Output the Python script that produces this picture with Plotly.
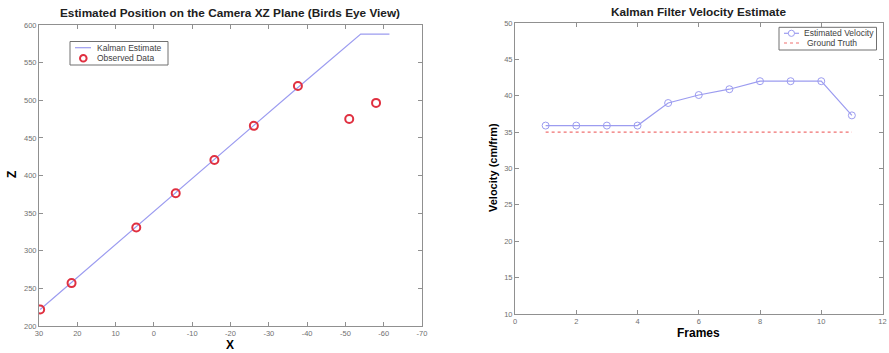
import plotly.graph_objects as go

# ---- Left chart data: Camera XZ plane ----
obs_x = [29.7, 21.5, 4.6, -5.7, -15.8, -26.1, -37.6, -51.0, -58.0]
obs_z = [222, 257, 331, 376.5, 420.5, 466, 519, 475, 496.5]
kal_x = [29.7, 21.5, 4.6, -5.7, -15.8, -26.1, -37.6, -54.0, -61.5]
kal_z = [222, 258, 332, 377, 421, 466, 517, 588, 588]
xz_xticks = [30, 20, 10, 0, -10, -20, -30, -40, -50, -60, -70]
xz_yticks = [200, 250, 300, 350, 400, 450, 500, 550, 600]

# ---- Right chart data: velocity ----
frames = [1, 2, 3, 4, 5, 6, 7, 8, 9, 10, 11]
est_vel = [35.9, 35.9, 35.9, 35.9, 39.0, 40.1, 40.9, 42.0, 42.0, 42.0, 37.3]
truth_vel = [35, 35, 35, 35, 35, 35, 35, 35, 35, 35, 35]
vel_xticks = [0, 2, 4, 6, 8, 10, 12]
vel_yticks = [10, 15, 20, 25, 30, 35, 40, 45, 50]

W, H = 889, 353
FONT = "Liberation Sans, Arial, sans-serif"
BLUE = "#9c9cf0"
RED = "#e03040"
PINK = "#f07070"
LEG_FS = 8.5
TITLE_FS = 11.8

fig = go.Figure()
fig.add_trace(go.Scatter(x=kal_x, y=kal_z, mode="lines", name="Kalman Estimate",
                         line=dict(color=BLUE, width=1.2), xaxis="x", yaxis="y"))
fig.add_trace(go.Scatter(x=obs_x, y=obs_z, mode="markers", name="Observed Data",
                         marker=dict(symbol="circle-open", size=8, color=RED,
                                     line=dict(width=2, color=RED)),
                         xaxis="x", yaxis="y"))
fig.add_trace(go.Scatter(x=frames, y=est_vel, mode="lines+markers", name="Estimated Velocity",
                         line=dict(color=BLUE, width=1.2),
                         marker=dict(symbol="circle-open", size=7, color=BLUE,
                                     line=dict(width=1, color=BLUE)),
                         xaxis="x2", yaxis="y2"))
fig.add_trace(go.Scatter(x=frames, y=truth_vel, mode="lines", name="Ground Truth",
                         line=dict(color=PINK, width=1.2, dash="dot"),
                         xaxis="x2", yaxis="y2"))

axis_common = dict(showline=True, linecolor="#909090", linewidth=1, mirror="ticks",
                   ticks="inside", ticklen=4, tickcolor="#909090", showgrid=False,
                   zeroline=False, automargin=False,
                   tickfont=dict(family=FONT, size=7.5, color="#707070"))


def px(x):
    return x / W


def py(y):
    return 1 - y / H


shapes = []
annotations = []

# Left legend (drawn compactly, MATLAB style)
shapes.append(dict(type="rect", xref="paper", yref="paper", x0=px(70), x1=px(168),
                   y0=py(41.5), y1=py(65), line=dict(color="#707070", width=1),
                   fillcolor="white", layer="above"))
shapes.append(dict(type="line", xref="paper", yref="paper", x0=px(75), x1=px(91),
                   y0=py(47.7), y1=py(47.7), line=dict(color=BLUE, width=1.2), layer="above"))
shapes.append(dict(type="circle", xref="paper", yref="paper", x0=px(80), x1=px(86.6),
                   y0=py(55), y1=py(61.6), line=dict(color=RED, width=2), layer="above"))
annotations.append(dict(text="Kalman Estimate", x=px(95), y=py(47.7), xref="paper",
                        yref="paper", showarrow=False, xanchor="left", yanchor="middle",
                        font=dict(family=FONT, size=LEG_FS, color="#404040")))
annotations.append(dict(text="Observed Data", x=px(95), y=py(58.3), xref="paper",
                        yref="paper", showarrow=False, xanchor="left", yanchor="middle",
                        font=dict(family=FONT, size=LEG_FS, color="#404040")))

# Right legend
shapes.append(dict(type="rect", xref="paper", yref="paper", x0=px(779), x1=px(876.5),
                   y0=py(27.3), y1=py(50), line=dict(color="#707070", width=1),
                   fillcolor="white", layer="above"))
shapes.append(dict(type="line", xref="paper", yref="paper", x0=px(784), x1=px(799),
                   y0=py(33.3), y1=py(33.3), line=dict(color=BLUE, width=1.2), layer="above"))
shapes.append(dict(type="circle", xref="paper", yref="paper", x0=px(788.3), x1=px(794.5),
                   y0=py(30.2), y1=py(36.4), line=dict(color=BLUE, width=1),
                   fillcolor="white", layer="above"))
shapes.append(dict(type="line", xref="paper", yref="paper", x0=px(784), x1=px(799),
                   y0=py(43), y1=py(43), line=dict(color=PINK, width=1.2, dash="dot"),
                   layer="above"))
annotations.append(dict(text="Estimated Velocity", x=px(802), y=py(33.3), xref="paper",
                        yref="paper", showarrow=False, xanchor="left", yanchor="middle",
                        font=dict(family=FONT, size=LEG_FS, color="#404040")))
annotations.append(dict(text="Ground Truth", x=px(805), y=py(43), xref="paper",
                        yref="paper", showarrow=False, xanchor="left", yanchor="middle",
                        font=dict(family=FONT, size=LEG_FS, color="#404040")))

# Titles and axis titles
annotations += [
    dict(text="<b>Estimated Position on the Camera XZ Plane (Birds Eye View)</b>",
         x=px(230), y=py(13), xref="paper", yref="paper", showarrow=False,
         xanchor="center", yanchor="middle",
         font=dict(family=FONT, size=TITLE_FS, color="#202020")),
    dict(text="<b>Kalman Filter Velocity Estimate</b>",
         x=px(698), y=py(12), xref="paper", yref="paper", showarrow=False,
         xanchor="center", yanchor="middle",
         font=dict(family=FONT, size=TITLE_FS, color="#202020")),
    dict(text="<b>X</b>", x=px(230), y=py(345), xref="paper", yref="paper",
         showarrow=False, xanchor="center", yanchor="middle",
         font=dict(family=FONT, size=12, color="#000")),
    dict(text="<b>Z</b>", x=px(12), y=py(175), xref="paper", yref="paper",
         showarrow=False, xanchor="center", yanchor="middle", textangle=-90,
         font=dict(family=FONT, size=12, color="#000")),
    dict(text="<b>Frames</b>", x=px(698), y=py(333), xref="paper", yref="paper",
         showarrow=False, xanchor="center", yanchor="middle",
         font=dict(family=FONT, size=12, color="#000")),
    dict(text="<b>Velocity (cm/frm)</b>", x=px(493), y=py(168), xref="paper",
         yref="paper", showarrow=False, xanchor="center", yanchor="middle",
         textangle=-90, font=dict(family=FONT, size=11, color="#000")),
]

fig.update_layout(
    width=W, height=H,
    margin=dict(l=0, r=0, t=0, b=0, autoexpand=False),
    paper_bgcolor="white", plot_bgcolor="white",
    font=dict(family=FONT),
    showlegend=False,
    xaxis=dict(domain=[px(39), px(422)], range=[30.0001, -70.0001], tickvals=xz_xticks,
               ticktext=[str(v) for v in xz_xticks], anchor="y", **axis_common),
    yaxis=dict(domain=[py(326), py(25)], range=[199.99, 600.01], tickvals=xz_yticks,
               anchor="x", **axis_common),
    xaxis2=dict(domain=[px(515), px(882.5)], range=[-0.0001, 12.0001], tickvals=vel_xticks,
                anchor="y2", **axis_common),
    yaxis2=dict(domain=[py(314), py(23)], range=[9.999, 50.001], tickvals=vel_yticks,
                anchor="x2", **axis_common),
    shapes=shapes,
    annotations=annotations,
)

fig.write_html("out.html", config={"displayModeBar": False},
               post_script="document.body.style.margin='0';document.body.style.overflow='hidden';")
